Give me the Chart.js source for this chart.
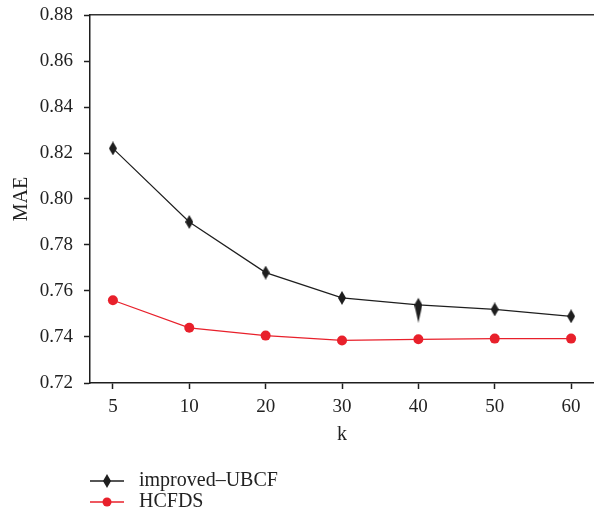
<!DOCTYPE html>
<html lang="en">
<head>
    <meta charset="UTF-8">
    <title>MAE vs k</title>
    <script src="https://cdn.jsdelivr.net/npm/chart.js"></script>
    <style>
        body {
            margin: 0;
            background: #fff;
        }
        #wrap {
            width: 594px;
            height: 511px;
        }
    </style>
</head>
<body>
<div id="wrap"><canvas id="maeChart" width="594" height="511"></canvas></div>

<script>
    const kLabels = ['5', '10', '20', '30', '40', '50', '60'];
    const yTicks = [0.72, 0.74, 0.76, 0.78, 0.80, 0.82, 0.84, 0.86, 0.88];
    const improvedUBCF = [0.822, 0.790, 0.768, 0.757, 0.754, 0.752, 0.749];
    const hcfds = [0.756, 0.744, 0.7406, 0.7385, 0.739, 0.7393, 0.7393];

    const FONT = '"Liberation Serif", "Times New Roman", serif';
    const BLACK = '#1e1e1e';
    const RED = '#e8202b';

    // diamond markers drawn onto small canvases
    function diamond(w, up, down) {
        const h = Math.max(up, down) * 2;
        const c = document.createElement('canvas');
        c.width = w;
        c.height = h;
        const g = c.getContext('2d');
        const cy = h / 2;
        g.fillStyle = BLACK;
        g.beginPath();
        g.moveTo(w / 2, cy - up);
        g.lineTo(w, cy);
        g.lineTo(w / 2, cy + down);
        g.lineTo(0, cy);
        g.closePath();
        g.fill();
        return c;
    }
    const dia = diamond(8, 7, 7);
    const diaLong = diamond(8, 7, 18);

    const toPoints = arr => arr.map((v, i) => ({x: i, y: v}));

    // drop the label overhang padding so the plot area sits where we want it
    const noPadY = s => { s.width = 90; s.paddingTop = 0; s.paddingBottom = 0; };
    const noPadX = h => s => { s.height = h; s.paddingLeft = 0; s.paddingRight = 0; };

    const legendPlugin = {
        id: 'sideLegend',
        afterDraw(chart) {
            const ctx = chart.ctx;
            const rows = [
                {label: 'improved\u2013UBCF', color: BLACK, y: 481, mark: 'dia'},
                {label: 'HCFDS', color: RED, y: 502, mark: 'dot'}
            ];
            ctx.save();
            rows.forEach(r => {
                ctx.strokeStyle = r.color;
                ctx.lineWidth = 1.3;
                ctx.beginPath();
                ctx.moveTo(90, r.y);
                ctx.lineTo(124, r.y);
                ctx.stroke();
                if (r.mark === 'dia') {
                    ctx.drawImage(dia, 103, r.y - dia.height / 2);
                } else {
                    ctx.fillStyle = r.color;
                    ctx.beginPath();
                    ctx.arc(107, r.y, 4.5, 0, Math.PI * 2);
                    ctx.fill();
                }
                ctx.fillStyle = '#222';
                ctx.font = '20px ' + FONT;
                ctx.textBaseline = 'middle';
                ctx.fillText(r.label, 139, r.y);
            });
            ctx.restore();
        }
    };

    new Chart(document.getElementById('maeChart'), {
        type: 'line',
        data: {
            datasets: [{
                label: 'improved\u2013UBCF',
                data: toPoints(improvedUBCF),
                borderColor: BLACK,
                borderWidth: 1.2,
                pointStyle: improvedUBCF.map((_, i) => i === 4 ? diaLong : dia),
                pointRadius: 5,
                tension: 0
            }, {
                label: 'HCFDS',
                data: toPoints(hcfds),
                borderColor: RED,
                backgroundColor: RED,
                borderWidth: 1.2,
                pointStyle: 'circle',
                pointRadius: 5,
                pointBorderWidth: 0,
                tension: 0
            }]
        },
        options: {
            responsive: false,
            animation: false,
            layout: {
                autoPadding: false,
                padding: {top: 15, right: 0, bottom: 58, left: 0}
            },
            plugins: {
                legend: {display: false},
                tooltip: {enabled: false}
            },
            scales: {
                x: {
                    type: 'linear',
                    min: -0.3,
                    max: 6.3,
                    afterBuildTicks: s => { s.ticks = kLabels.map((_, i) => ({value: i})); },
                    afterFit: noPadX(70),
                    grid: {drawOnChartArea: false, tickLength: 6, color: BLACK, tickWidth: 1.5},
                    border: {color: BLACK, width: 1.5},
                    ticks: {
                        padding: 7,
                        color: '#222',
                        font: {family: FONT, size: 19},
                        callback: v => kLabels[v]
                    },
                    title: {
                        display: true,
                        text: 'k',
                        color: '#222',
                        font: {family: FONT, size: 20},
                        padding: {top: 0, bottom: 6}
                    }
                },
                x2: {
                    type: 'linear',
                    position: 'top',
                    min: -0.3,
                    max: 6.3,
                    afterFit: noPadX(0),
                    grid: {display: false},
                    ticks: {display: false},
                    border: {color: '#333', width: 1.5}
                },
                y: {
                    min: 0.72,
                    max: 0.88,
                    afterBuildTicks: s => { s.ticks = yTicks.map(v => ({value: v})); },
                    afterFit: noPadY,
                    grid: {drawOnChartArea: false, tickLength: 6, color: BLACK, tickWidth: 1.5},
                    border: {color: BLACK, width: 1.5},
                    ticks: {
                        padding: 11,
                        color: '#222',
                        font: {family: FONT, size: 19},
                        callback: v => v.toFixed(2)
                    },
                    title: {
                        display: true,
                        text: 'MAE',
                        color: '#222',
                        font: {family: FONT, size: 20},
                        padding: {top: 10, bottom: 0}
                    }
                }
            }
        },
        plugins: [legendPlugin]
    });
</script>
</body>
</html>
